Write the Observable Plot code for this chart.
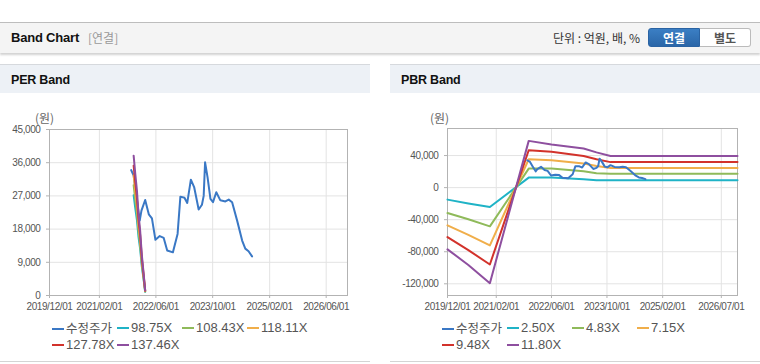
<!DOCTYPE html>
<html><head><meta charset="utf-8">
<script src="https://cdn.jsdelivr.net/npm/d3@7"></script>
<script src="https://cdn.jsdelivr.net/npm/@observablehq/plot@0.6"></script>
<style>
html,body{margin:0;padding:0;background:#fff;}
body{width:760px;height:364px;position:relative;overflow:hidden;font-family:"Liberation Sans",Arial,"Noto Sans CJK KR",sans-serif;}
.abs{position:absolute;}
#hdr{left:0;top:22px;width:760px;height:30px;background:#f4f4f4;border-top:1px solid #bdbdbd;box-shadow:0 2px 2px rgba(0,0,0,0.18);}
.ttl{font-weight:bold;font-size:13px;color:#111;letter-spacing:-0.2px;line-height:16px;}
.ptitle{top:64px;width:370px;height:28px;background:#edf1f6;border-top:1px solid #d6d9dd;}
.pbottom{top:361px;width:370px;height:0;border-top:1px solid #d4d4d4;}
.unit{font-size:12px;color:#666;font-family:"Noto Sans CJK KR",sans-serif;line-height:14px;}
.leg{font-size:13px;color:#555;white-space:nowrap;line-height:14px;height:14px;}
.leg .sw{display:inline-block;width:12px;height:2px;vertical-align:middle;margin-right:2px;position:relative;top:-1px;}
.leg .k{font-family:"Noto Sans CJK KR",sans-serif;font-size:12.5px;}
.btn{top:28px;height:19px;font-size:12px;font-weight:bold;text-align:center;line-height:17px;font-family:"Noto Sans CJK KR",sans-serif;}
</style></head>
<body>
<div id="hdr" class="abs"></div>
<div class="abs ttl" style="left:11px;top:30px;">Band Chart</div>
<div class="abs" style="left:88px;top:30px;font-size:12px;color:#999;font-family:'Noto Sans CJK KR',sans-serif;line-height:16px;">[연결]</div>
<div class="abs" style="left:553px;top:30px;font-size:12px;color:#333;font-family:'Noto Sans CJK KR',sans-serif;line-height:16px;">단위 : 억원, 배, %</div>
<div class="abs btn" style="left:648px;width:52px;background:linear-gradient(#3b7fc4,#2a66a8);color:#fff;border:1px solid #2a63a3;border-radius:3px 0 0 3px;box-sizing:border-box;">연결</div>
<div class="abs btn" style="left:700px;width:51px;background:#fff;color:#555;border:1px solid #bbb;border-left:none;border-radius:0 3px 3px 0;box-sizing:border-box;">별도</div>

<div class="abs ptitle" style="left:0;"></div>
<div class="abs ttl" style="left:11px;top:72px;font-size:12.5px;">PER Band</div>
<div class="abs ptitle" style="left:390px;"></div>
<div class="abs ttl" style="left:401px;top:72px;font-size:12.5px;">PBR Band</div>
<div class="abs pbottom" style="left:0;"></div>
<div class="abs pbottom" style="left:390px;"></div>

<div class="abs unit" style="left:35px;top:111px;">(원)</div>
<div class="abs unit" style="left:430px;top:111px;">(원)</div>

<div id="per" class="abs" style="left:0;top:110px;"></div>
<div id="pbr" class="abs" style="left:390px;top:110px;"></div>
<div id="legPer"></div>
<div id="legPbr"></div>

<script>
// ---- stock price (수정주가), shared by both charts ----
const priceDates = ["2021-11-01","2021-11-22","2021-12-15","2022-01-13","2022-01-28","2022-03-01","2022-04-01","2022-04-28","2022-05-28","2022-07-04","2022-08-07","2022-09-06","2022-10-25","2022-12-04","2022-12-28","2023-02-01","2023-02-25","2023-03-28","2023-04-25","2023-06-03","2023-07-01","2023-07-16","2023-07-28","2023-08-18","2023-09-12","2023-10-04","2023-11-01","2023-12-06","2024-01-18","2024-02-16","2024-03-16","2024-04-28","2024-06-10","2024-07-07","2024-08-04","2024-09-03"];
const priceValues = [34000,32500,27000,20300,23000,25900,22000,20900,15100,16100,15600,12200,11700,16700,26800,26500,25100,31400,29400,23300,24600,27000,36100,32100,26200,25300,28000,25800,25500,26000,25300,20300,14900,12700,12000,10600];

// ---- PER band ----
const perNames = ["수정주가","98.75X","108.43X","118.11X","127.78X","137.46X"];
const perBandDates = ["2021-11-22","2021-12-06","2021-12-20","2022-01-03","2022-01-17","2022-01-31","2022-02-14","2022-03-01"];
const per98 = [27200,23700,20500,15800,12600,7900,4700,1000];
const per108 = [29900,26000,22500,17400,13800,8700,5100,1100];
const per118 = [32600,28400,24500,18900,15000,9500,5600,1200];
const per127 = [35200,30700,26500,20500,16300,10200,6000,1300];
const per137 = [37900,33000,28500,22000,17500,11000,6500,1400];
const perYTicks = [0,9000,18000,27000,36000,45000];
const perXTicks = ["2019-12-01","2021-02-01","2022-06-01","2023-10-01","2025-02-01","2026-06-01"];

// ---- PBR band ----
const pbrNames = ["수정주가","2.50X","4.83X","7.15X","9.48X","11.80X"];
const pbrBandDates = ["2019-12-01","2020-06-01","2020-12-07","2021-11-13","2022-06-01","2023-03-10","2023-07-01","2023-11-01","2026-11-20"];
const pbr250 = [-15000,-19800,-24200,12500,12500,10400,9300,9300,9300];
const pbr483 = [-31700,-39500,-48300,23700,23700,20400,18000,17200,17200];
const pbr715 = [-47100,-59000,-72100,35400,34200,30000,27000,24500,24500];
const pbr948 = [-61700,-78000,-95900,46600,44600,39500,35500,31800,31800];
const pbr1180 = [-77000,-96500,-119200,58300,53750,48700,44000,39500,39500];
const pbrYTicks = [-120000,-80000,-40000,0,40000];
const pbrXTicks = ["2019-12-01","2021-02-01","2022-06-01","2023-10-01","2025-02-01","2026-07-01"];

const colors = ["#3a78c5","#1fb3c6","#8fba5a","#f0ae4a","#d2322b","#8e4f9f"];

const parse = d3.utcParse("%Y-%m-%d");
function rows(name, dates, vals){ return dates.map((d,i)=>({series:name, date:parse(d), value:vals[i]})); }
const fmtX = d3.utcFormat("%Y/%m/%d");
const fmtY = v => v.toLocaleString("en-US");

const priceRowsPer = rows("수정주가", priceDates, priceValues);
const perBandRows = [
  ...rows(perNames[1], perBandDates, per98),
  ...rows(perNames[2], perBandDates, per108),
  ...rows(perNames[3], perBandDates, per118),
  ...rows(perNames[4], perBandDates, per127),
  ...rows(perNames[5], perBandDates, per137)
];
const priceRowsPbr = rows("수정주가", priceDates, priceValues);
const pbrBandRows = [
  ...rows(pbrNames[1], pbrBandDates, pbr250),
  ...rows(pbrNames[2], pbrBandDates, pbr483),
  ...rows(pbrNames[3], pbrBandDates, pbr715),
  ...rows(pbrNames[4], pbrBandDates, pbr948),
  ...rows(pbrNames[5], pbrBandDates, pbr1180)
];

const style = {fontSize:"10px", fontFamily:"'Liberation Sans',Arial,sans-serif", color:"#555", background:"transparent", letterSpacing:"-0.4px"};

function chart(opts){
  return Plot.plot({
    width:370, height:205,
    marginLeft:opts.ml, marginRight:23, marginTop:opts.mt, marginBottom:20,
    style,
    x:{type:"utc", domain:opts.xdom},
    y:{domain:opts.ydom},
    color:{domain:opts.names, range:colors},
    marks:[
      Plot.gridX(opts.xticks.map(parse), {stroke:"#e3e3e3", strokeOpacity:1}),
      Plot.gridY(opts.yticks, {stroke:"#e3e3e3", strokeOpacity:1}),
      Plot.frame({stroke:"#b3b3b3"}),
      Plot.axisX(opts.xticks.map(parse), {tickFormat:fmtX, tickSize:3, stroke:"#b3b3b3", label:null, tickPadding:4}),
      Plot.axisY(opts.yticks, {tickFormat:fmtY, tickSize:3, stroke:"#b3b3b3", label:null}),
      ...opts.layers
    ]
  });
}

const per = chart({
  ml:49, mt:19, names:perNames,
  xdom:[parse("2019-12-01"), parse("2026-12-01")], ydom:[0,45000],
  xticks:perXTicks, yticks:perYTicks,
  layers:[
    Plot.line(priceRowsPer, {x:"date", y:"value", stroke:"series", strokeWidth:2}),
    Plot.line(perBandRows, {x:"date", y:"value", z:"series", stroke:"series", strokeWidth:2})
  ]
});
document.getElementById("per").appendChild(per);

const pbr = chart({
  ml:57, mt:18, names:pbrNames,
  xdom:[parse("2019-12-01"), parse("2026-11-20")], ydom:[-134600,73750],
  xticks:pbrXTicks, yticks:pbrYTicks,
  layers:[
    Plot.line(pbrBandRows, {x:"date", y:"value", z:"series", stroke:"series", strokeWidth:2}),
    Plot.line(priceRowsPbr, {x:"date", y:"value", stroke:"series", strokeWidth:2})
  ]
});
document.getElementById("pbr").appendChild(pbr);

function legend(id, names, x0, rowY){
  const el = document.getElementById(id);
  names.forEach((n,i)=>{
    const r = Math.floor(i/4), c = i%4;
    const d = document.createElement("div");
    d.className = "abs leg";
    d.style.left = (x0 + c*65) + "px";
    d.style.top = (rowY[r]) + "px";
    const isK = /[가-힣]/.test(n);
    d.innerHTML = `<span class="sw" style="background:${colors[i]}"></span><span class="${isK?'k':''}">${n}</span>`;
    el.appendChild(d);
  });
}
legend("legPer", perNames, 52, [321, 338]);
legend("legPbr", pbrNames, 442, [321, 338]);
</script>
</body></html>
